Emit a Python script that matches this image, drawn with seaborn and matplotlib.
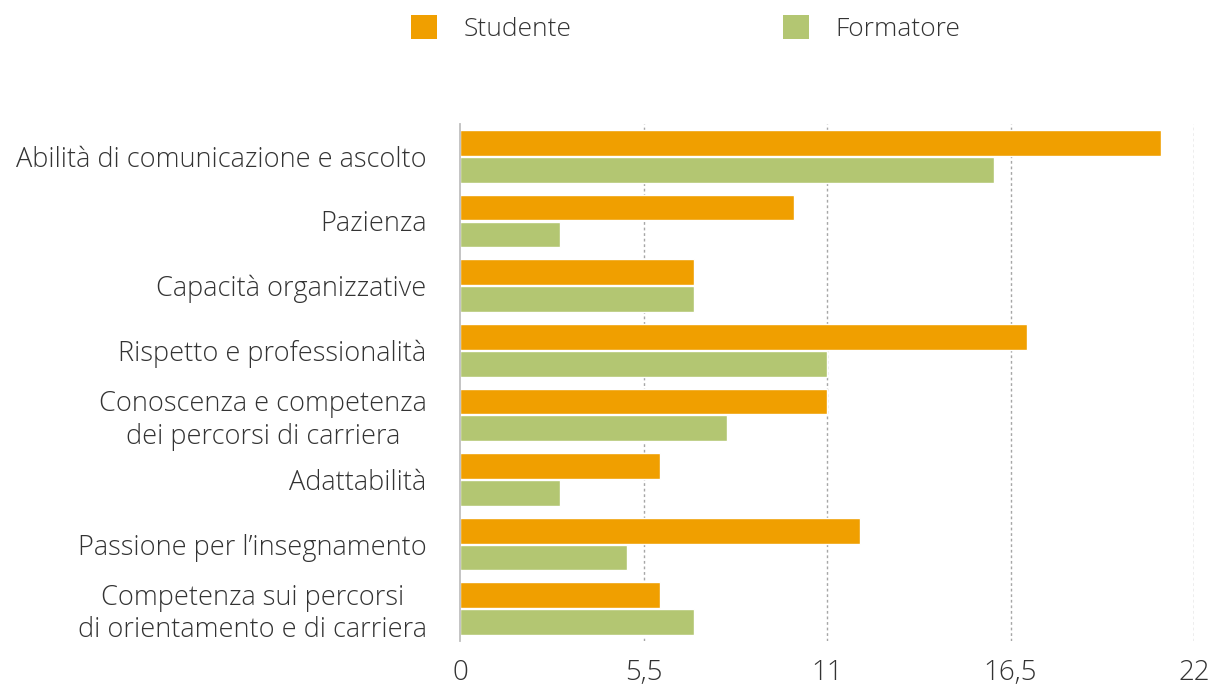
import matplotlib
matplotlib.use('Agg')
import matplotlib.pyplot as plt
import pandas as pd
import seaborn as sns
from matplotlib.patches import Patch

sns.set_theme(style='white')
plt.rcParams['font.family'] = ['Open Sans', 'DejaVu Sans']
plt.rcParams['font.weight'] = 'light'

# Data
categories = [
    'Abilità di comunicazione e ascolto',
    'Pazienza',
    'Capacità organizzative',
    'Rispetto e professionalità',
    'Conoscenza e competenza\ndei percorsi di carriera',
    'Adattabilità',
    'Passione per l’insegnamento',
    'Competenza sui percorsi\ndi orientamento e di carriera',
]
studente = [21, 10, 7, 17, 11, 6, 12, 6]
formatore = [16, 3, 7, 11, 8, 3, 5, 7]
series = ['Studente', 'Formatore']
colors = ['#F09F00', '#B3C672']
xticks = [0, 5.5, 11, 16.5, 22]
xtick_labels = ['0', '5,5', '11', '16,5', '22']

df = pd.DataFrame({
    'Categoria': categories * 2,
    'Valore': studente + formatore,
    'Serie': ['Studente'] * len(categories) + ['Formatore'] * len(categories),
})

fig = plt.figure(figsize=(12.18, 6.93), dpi=100)
ax = fig.add_axes([0.3777, 0.075, 0.6026, 0.746])

sns.barplot(data=df, y='Categoria', x='Valore', hue='Serie', order=categories,
            hue_order=series, palette=colors, orient='h', width=0.83, gap=0.04,
            saturation=1, ax=ax, legend=False)

txt = '#333333'
ax.set_xlim(0, 22)
ax.set_ylim(len(categories) - 0.5, -0.5)
ax.set_xticks(xticks)
ax.set_xticklabels(xtick_labels, fontsize=20, color=txt)
for lab in ax.get_yticklabels():
    lab.set_multialignment('center')
    lab.set_linespacing(1.2)
    lab.set_fontsize(19.5)
    lab.set_color(txt)
ax.set_xlabel('')
ax.set_ylabel('')
ax.tick_params(axis='both', length=0)
ax.tick_params(axis='x', pad=13)
ax.tick_params(axis='y', pad=24)

for s in ['top', 'right', 'bottom']:
    ax.spines[s].set_visible(False)
ax.spines['left'].set_color('#BFBFBF')
ax.spines['left'].set_linewidth(1.3)

for x in xticks[1:]:
    ax.axvline(x, color='#A6A6A6', linestyle=(0, (2, 2)), linewidth=1, zorder=0)

handles = [Patch(facecolor=c, edgecolor='none') for c in colors]
fig.legend(handles, series, loc='upper center', bbox_to_anchor=(0.563, 1.012),
           ncol=2, frameon=False, handlelength=1.0, handleheight=1.0,
           handletextpad=1.0, columnspacing=8.0, labelcolor=txt,
           prop={'size': 19})

fig.savefig('out.png', dpi=100)
